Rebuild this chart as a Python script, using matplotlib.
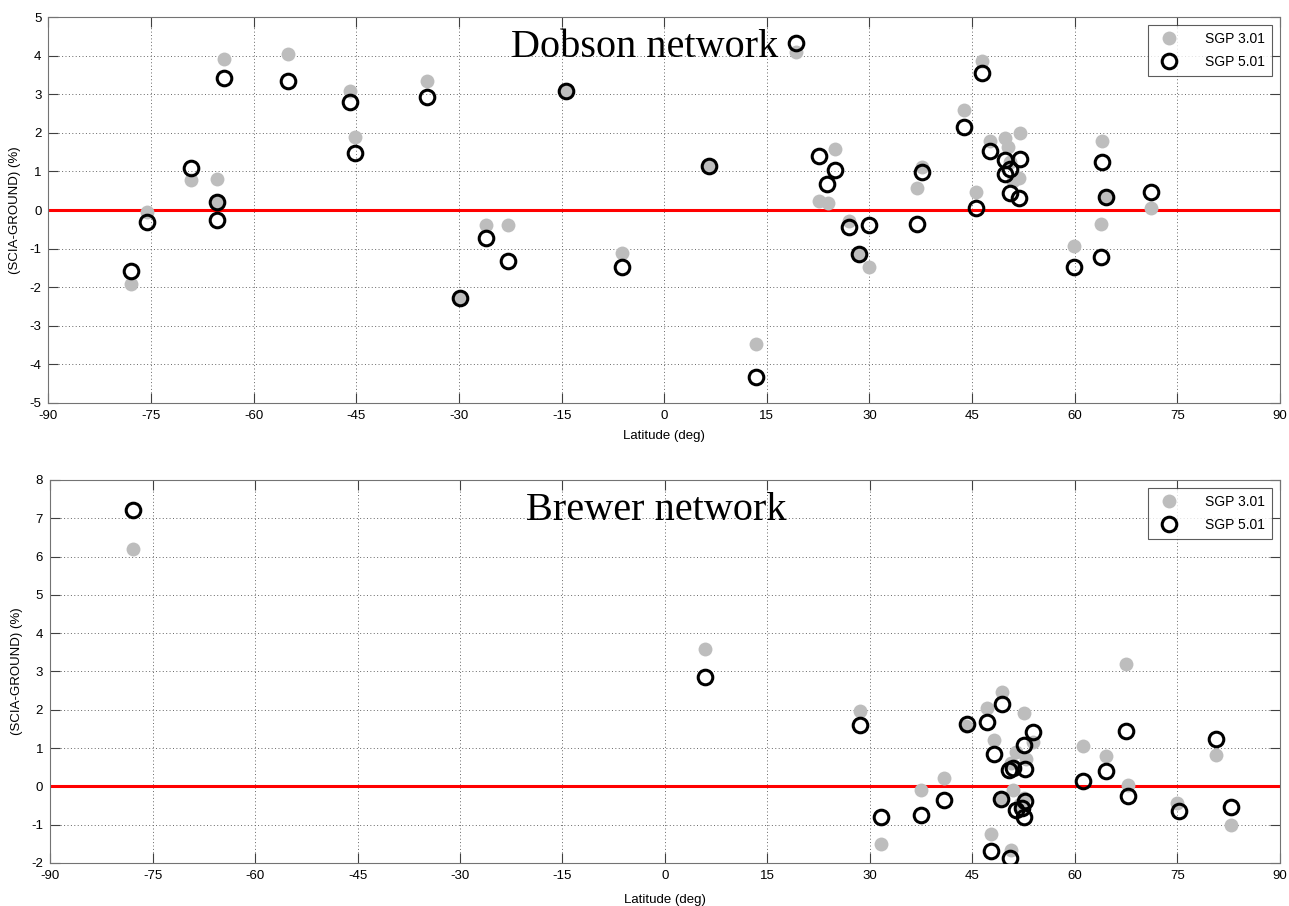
import numpy as np
import matplotlib
matplotlib.use("Agg")
import matplotlib.pyplot as plt

# Dobson network: latitude, SGP 3.01 and SGP 5.01 differences (%)
dob_lat_301 = [-78.0, -75.6, -69.1, -65.3, -65.3, -64.4, -55.0, -45.9, -45.2, -34.7,
               -29.8, -26.1, -22.8, -14.4, -6.1, 6.5, 13.4, 19.3, 24.9, 22.6, 23.9,
               27.0, 28.5, 30.0, 36.9, 37.7, 43.8, 45.6, 46.5, 47.6,
               49.8, 50.2, 52.0, 51.8, 50.5, 51.0,
               64.0, 64.6, 63.9, 59.9, 71.2]
dob_301 = [-1.92, -0.04, 0.77, 0.80, 0.22, 3.90, 4.03, 3.09, 1.90, 3.34,
           -2.28, -0.39, -0.38, 3.08, -1.12, 1.13, -3.48, 4.10, 1.57, 0.23, 0.19,
           -0.29, -1.14, -1.47, 0.56, 1.12, 2.60, 0.47, 3.86, 1.80,
           1.86, 1.62, 1.99, 0.82, 1.25, 0.75,
           1.78, 0.35, -0.35, -0.93, 0.04]
dob_lat_501 = [-78.0, -75.6, -69.1, -65.3, -65.3, -64.4, -55.0, -45.9, -45.2, -34.7,
               -29.8, -26.1, -22.8, -14.4, -6.1, 6.5, 13.4, 19.3, 22.6, 24.9, 23.8,
               27.0, 28.5, 30.0, 36.9, 37.7, 43.8, 45.6, 46.5, 47.6,
               49.8, 52.0, 50.5, 49.8, 50.5, 51.8,
               64.0, 64.6, 63.9, 59.9, 71.2]
dob_501 = [-1.57, -0.32, 1.10, 0.22, -0.26, 3.43, 3.35, 2.79, 1.49, 2.94,
           -2.28, -0.73, -1.32, 3.08, -1.47, 1.13, -4.32, 4.34, 1.40, 1.04, 0.67,
           -0.44, -1.14, -0.38, -0.35, 0.98, 2.15, 0.04, 3.55, 1.54,
           1.30, 1.31, 1.05, 0.93, 0.45, 0.30,
           1.24, 0.35, -1.22, -1.48, 0.46]

# Brewer network
brw_lat_301 = [-77.9, 5.9, 28.5, 31.6, 37.4, 40.9,
               44.0, 47.1, 48.1, 49.3, 52.5, 53.9, 51.3, 52.9, 50.6, 51.0,
               49.2, 52.6, 52.0, 52.3, 47.7, 50.7,
               61.2, 64.6, 67.4, 67.7, 75.0, 80.6, 82.9]
brw_301 = [6.19, 3.60, 1.98, -1.51, -0.10, 0.23,
           1.57, 2.05, 1.22, 2.46, 1.91, 1.16, 0.90, 0.72, 0.60, -0.10,
           -0.32, -0.30, -0.45, -0.60, -1.24, -1.67,
           1.05, 0.80, 3.20, 0.03, -0.43, 0.81, -1.02]
brw_lat_501 = [-77.9, 5.9, 28.5, 31.6, 37.4, 40.9,
               44.2, 47.1, 48.1, 49.3, 52.5, 53.8, 50.3, 51.0, 52.7, 49.2,
               52.7, 51.3, 52.2, 52.5, 47.7, 50.5,
               61.2, 64.6, 67.4, 67.7, 75.2, 80.6, 82.9]
brw_501 = [7.22, 2.85, 1.61, -0.80, -0.74, -0.35,
           1.64, 1.68, 0.84, 2.16, 1.07, 1.42, 0.44, 0.49, 0.46, -0.33,
           -0.37, -0.63, -0.56, -0.80, -1.69, -1.86,
           0.13, 0.40, 1.44, -0.25, -0.65, 1.24, -0.54]

xticks = np.arange(-90, 91, 15)

plt.rcParams['font.family'] = ['Liberation Sans', 'DejaVu Sans']
plt.rcParams['axes.unicode_minus'] = False

fig = plt.figure(figsize=(12.89, 9.06), dpi=100)
ax1 = fig.add_axes([0.0376, 0.5552, 0.9554, 0.426])
ax2 = fig.add_axes([0.0388, 0.0475, 0.9542, 0.4227])


def draw_panel(ax, lat1, v1, lat2, v2, ylim, title, tx, xlpad):
    ax.axhline(0, color='red', lw=2.2, zorder=2)
    ax.plot(lat1, v1, 'o', color='#bdbdbd', ms=10, mec='none', zorder=3, label='SGP 3.01')
    ax.plot(lat2, v2, 'o', mfc='none', mec='black', mew=2.2, ms=10.5, zorder=4, label='SGP 5.01')
    ax.set_xlim(-90, 90)
    ax.set_ylim(*ylim)
    ax.set_xticks(xticks)
    ax.set_yticks(np.arange(ylim[0], ylim[1] + 1, 1))
    ax.grid(True, linestyle=(0, (1, 2.5)), color='0.4', lw=0.7)
    ax.set_axisbelow(True)
    ax.tick_params(direction='in', length=7, width=0.8, top=True, right=True,
                   labelsize=9.5, color='0.25', pad=5)
    for s in ax.spines.values():
        s.set_color('0.45')
    ax.set_xlabel('Latitude (deg)', fontsize=9.5, labelpad=xlpad)
    ax.set_ylabel('(SCIA-GROUND) (%)', fontsize=9.5, labelpad=6)
    ax.text(tx, 0.92, title, transform=ax.transAxes, ha='center', va='center',
            fontsize=29, family='Liberation Serif', zorder=1)
    leg = ax.legend(loc='upper right', fontsize=10, frameon=True, fancybox=False,
                    borderaxespad=0.6, handletextpad=1.6, borderpad=0.5,
                    labelspacing=0.6)
    leg.get_frame().set_edgecolor('0.2')
    leg.get_frame().set_linewidth(0.8)


draw_panel(ax1, dob_lat_301, dob_301, dob_lat_501, dob_501, (-5, 5), 'Dobson network', 0.484, 6)
draw_panel(ax2, brw_lat_301, brw_301, brw_lat_501, brw_501, (-2, 8), 'Brewer network', 0.493, 9)

fig.savefig('out.png', dpi=100)
